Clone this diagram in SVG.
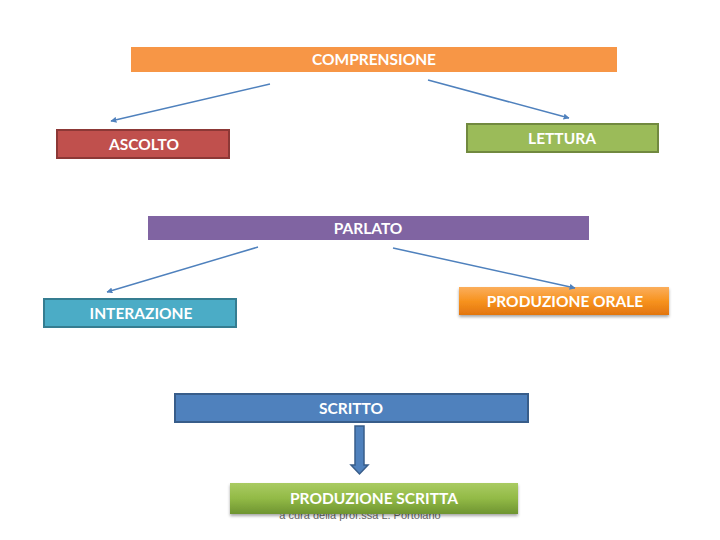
<svg xmlns="http://www.w3.org/2000/svg" width="720" height="540" viewBox="0 0 720 540">
<style>
.t{font-family:Lato,"Open Sans","Liberation Sans",sans-serif;font-size:15.5px;font-weight:bold;fill:#fff;text-anchor:middle;dominant-baseline:central}
.c{stroke:#4F81BD;stroke-width:1.5;fill:none;marker-end:url(#ah)}
</style>
<defs>
<marker id="ah" viewBox="0 0 10 10" refX="9" refY="5" markerWidth="6" markerHeight="6" orient="auto" markerUnits="userSpaceOnUse"><path d="M0,0L10,5L0,10z" fill="#4F81BD"/></marker>
<linearGradient id="go" x1="0" y1="0" x2="0" y2="1"><stop offset="0" stop-color="#FBAE5C"/><stop offset="0.5" stop-color="#F7931E"/><stop offset="1" stop-color="#E2750F"/></linearGradient>
<linearGradient id="gg" x1="0" y1="0" x2="0" y2="1"><stop offset="0" stop-color="#A9CB62"/><stop offset="0.5" stop-color="#92BA46"/><stop offset="1" stop-color="#6E9431"/></linearGradient>
<filter id="sh" x="-5%" y="-20%" width="110%" height="150%"><feDropShadow dx="0" dy="2" stdDeviation="1.5" flood-color="#000" flood-opacity="0.35"/></filter>
</defs>
<text x="360" y="515" font-family="'Liberation Sans',sans-serif" font-size="11" fill="#666" text-anchor="middle" dominant-baseline="central">a cura della prof.ssa L. Portolano</text>
<g id="comprensione"><rect x="131" y="47" width="486" height="25" fill="#F79646"/><text class="t" x="374" y="59">COMPRENSIONE</text></g>
<g id="ascolto"><rect x="57" y="130" width="172" height="28" fill="#C0504D" stroke="#8C3836" stroke-width="2"/><text class="t" x="144" y="144">ASCOLTO</text></g>
<g id="lettura"><rect x="467" y="124" width="191" height="28" fill="#9BBB59" stroke="#71893F" stroke-width="2"/><text class="t" x="562" y="138">LETTURA</text></g>
<g id="parlato"><rect x="148" y="216" width="441" height="24" fill="#8064A2"/><text class="t" x="368" y="228">PARLATO</text></g>
<g id="interazione"><rect x="44" y="299" width="192" height="28" fill="#4BACC6" stroke="#357D91" stroke-width="2"/><text class="t" x="141" y="313">INTERAZIONE</text></g>
<g id="produzione-orale"><rect x="459" y="287" width="210" height="28" fill="url(#go)" filter="url(#sh)"/><text class="t" x="565" y="301">PRODUZIONE ORALE</text></g>
<g id="scritto"><rect x="175" y="394" width="353" height="28" fill="#4F81BD" stroke="#385D8A" stroke-width="2"/><text class="t" x="351" y="408">SCRITTO</text></g>
<g id="produzione-scritta"><rect x="230" y="483" width="288" height="31" fill="url(#gg)" filter="url(#sh)"/><text class="t" x="374" y="498">PRODUZIONE SCRITTA</text></g>
<g id="connectors">
<line class="c" x1="270" y1="84" x2="111" y2="121"/>
<line class="c" x1="428" y1="80" x2="569" y2="118"/>
<line class="c" x1="258" y1="247" x2="107" y2="292"/>
<line class="c" x1="393" y1="248" x2="575" y2="288"/>
<path d="M355,426H364V465H368L359.5,474L351,465H355Z" fill="#4F81BD" stroke="#385D8A" stroke-width="1.5"/>
</g>
</svg>
